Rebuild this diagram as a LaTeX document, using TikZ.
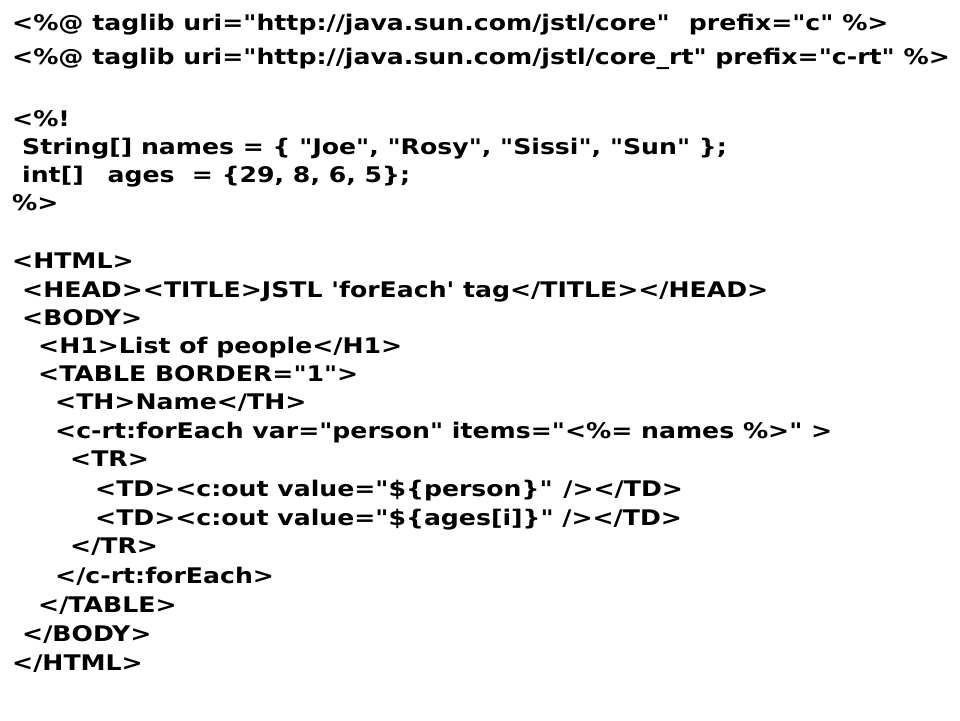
\documentclass[tikz,border=0pt]{standalone}
\usepackage{fontspec}
\newfontfamily\codefont[FakeStretch=1.17]{DejaVu Sans Bold}
\begin{document}
\begin{tikzpicture}[x=1pt,y=-1pt,
  codeline/.style={anchor=base west,inner sep=0pt,font=\codefont\fontsize{21.5}{24}\selectfont}]
\useasboundingbox[fill=white] (0,0) rectangle (960,720);
\node[codeline] (l1) at (12,30) {<\%@ taglib uri="http://java.sun.com/jstl/core"\hspace{0.9em}prefix="c" \%>};
\node[codeline] (l2) at (12,64) {<\%@ taglib uri="http://java.sun.com/jstl/core\_rt" prefix="c-rt" \%>};
\node[codeline] (l3) at (12,126) {<\%!};
\node[codeline] (l4) at (22,154) {String[] names = \{ "Joe", "Rosy", "Sissi", "Sun" \};};
\node[codeline] (l5) at (22,182) {int[]\hspace{0.7em} ages\hspace{0.4em} = \{29, 8, 6, 5\};};
\node[codeline] (l6) at (12,210) {\%>};
\node[codeline] (l7) at (12,268) {<HTML>};
\node[codeline] (l8) at (22,297) {<HEAD><TITLE>JSTL 'forEach' tag</TITLE></HEAD>};
\node[codeline] (l9) at (22,325) {<BODY>};
\node[codeline] (l10) at (38,353) {<H1>List of people</H1>};
\node[codeline] (l11) at (38,381) {<TABLE BORDER="1">};
\node[codeline] (l12) at (55,409) {<TH>Name</TH>};
\node[codeline] (l13) at (55,438) {<c-rt:forEach var="person" items="<\%= names \%>" >};
\node[codeline] (l14) at (70,466) {<TR>};
\node[codeline] (l15) at (95,496) {<TD><c:out value="\$\{person\}"\hspace{0.5em}/></TD>};
\node[codeline] (l16) at (95,525) {<TD><c:out value="\$\{ages[i]\}" /></TD>};
\node[codeline] (l17) at (70,553) {</TR>};
\node[codeline] (l18) at (55,583) {</c-rt:forEach>};
\node[codeline] (l19) at (38,612) {</TABLE>};
\node[codeline] (l20) at (22,641) {</BODY>};
\node[codeline] (l21) at (12,670) {</HTML>};
\end{tikzpicture}
\end{document}
